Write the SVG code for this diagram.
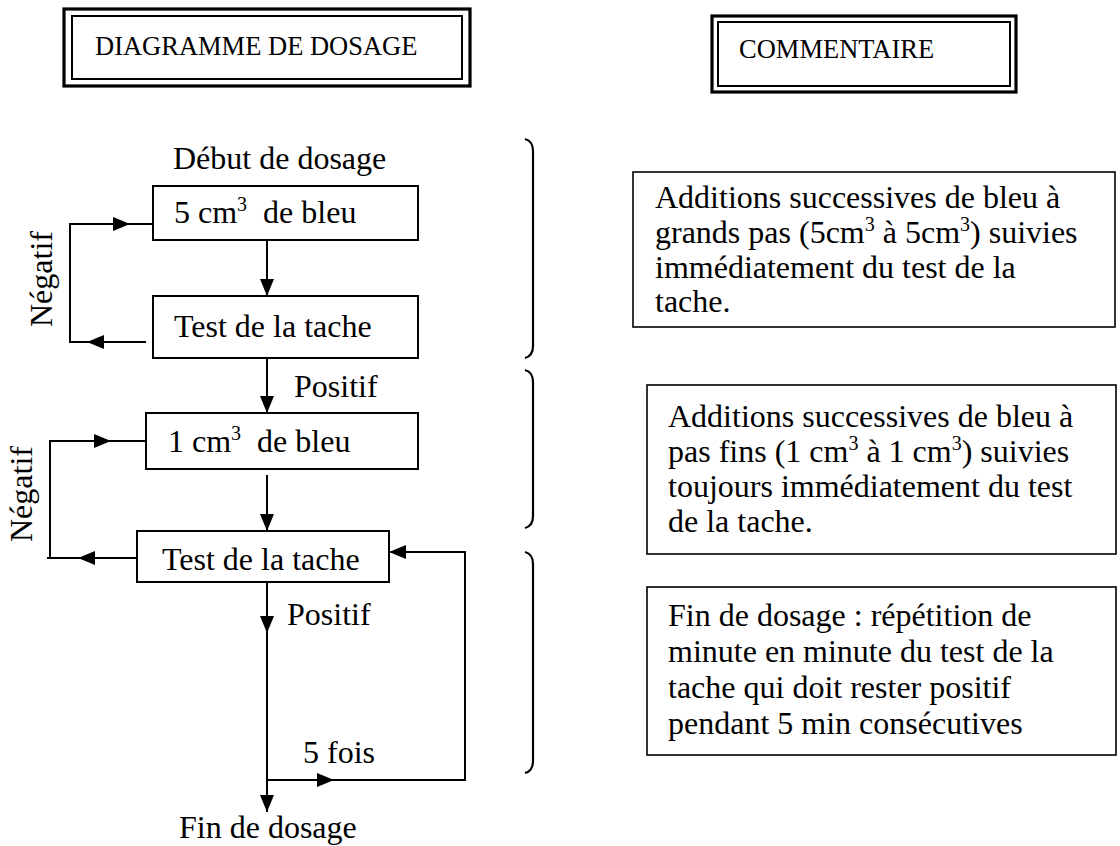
<svg xmlns="http://www.w3.org/2000/svg" width="1120" height="846" viewBox="0 0 1120 846">
  <style>
    text { font-family: "Liberation Serif", "Times New Roman", serif; fill: #000; }
    .t { font-size: 32px; }
    .h { font-size: 26.5px; }
    .sup { font-size: 20px; }
    .box { fill: #fff; stroke: #000; stroke-width: 2; }
    .cbox { fill: #fff; stroke: #000; stroke-width: 1.6; }
    .frame-out { fill: none; stroke: #000; stroke-width: 3.2; }
    .frame-in { fill: none; stroke: #000; stroke-width: 2; }
    .line { fill: none; stroke: #000; stroke-width: 2; }
    .brace { fill: none; stroke: #000; stroke-width: 2.2; }
  </style>
  <defs>
    <marker id="arrow" markerUnits="userSpaceOnUse" markerWidth="17" markerHeight="14" refX="17" refY="7" orient="auto">
      <path d="M0,0 L17,7 L0,14 z" fill="#000"/>
    </marker>
  </defs>
  <rect width="1120" height="846" fill="#fff"/>

  <!-- column headings -->
  <g id="title-diagramme">
    <rect class="frame-out" x="64" y="9" width="406" height="77"/>
    <rect class="frame-in" x="72" y="16" width="390" height="63"/>
    <text class="h" x="95" y="55">DIAGRAMME DE DOSAGE</text>
  </g>
  <g id="title-commentaire">
    <rect class="frame-out" x="712" y="16" width="304" height="76"/>
    <rect class="frame-in" x="718" y="22" width="292" height="64"/>
    <text class="h" x="739" y="58">COMMENTAIRE</text>
  </g>

  <!-- flowchart -->
  <g id="start">
    <text class="t" x="173" y="169">Début de dosage</text>
  </g>
  <g id="add5">
    <rect class="box" x="153" y="186" width="265" height="54"/>
    <text class="t" x="174" y="223">5 cm<tspan class="sup" dy="-12">3</tspan><tspan dy="12" xml:space="preserve">  de bleu</tspan></text>
  </g>
  <g id="test1">
    <rect class="box" x="153" y="296" width="265" height="62"/>
    <text class="t" x="174" y="337">Test de la tache</text>
  </g>
  <g id="add1">
    <rect class="box" x="146" y="413" width="272" height="56"/>
    <text class="t" x="168" y="452">1 cm<tspan class="sup" dy="-12">3</tspan><tspan dy="12" xml:space="preserve">  de bleu</tspan></text>
  </g>
  <g id="test2">
    <rect class="box" x="137" y="531" width="252" height="51"/>
    <text class="t" x="162" y="570">Test de la tache</text>
  </g>
  <g id="end">
    <text class="t" x="179" y="838">Fin de dosage</text>
  </g>

  <g id="connectors">
    <!-- coarse stage -->
    <path class="line" d="M267,240 L267,296" marker-end="url(#arrow)"/>
    <path class="line" d="M146,342 L87,342" marker-end="url(#arrow)"/>
    <path class="line" d="M87,342 L70,342 L70,224 L130,224" marker-end="url(#arrow)"/>
    <path class="line" d="M130,224 L153,224"/>
    <!-- fine stage -->
    <path class="line" d="M267,358 L267,413" marker-end="url(#arrow)"/>
    <path class="line" d="M267,475 L267,531" marker-end="url(#arrow)"/>
    <path class="line" d="M137,558 L78,558" marker-end="url(#arrow)"/>
    <path class="line" d="M78,558 L47,558 M50,558 L50,441 L111,441" marker-end="url(#arrow)"/>
    <path class="line" d="M111,441 L146,441"/>
    <!-- final check loop -->
    <path class="line" d="M267,582 L267,633" marker-end="url(#arrow)"/>
    <path class="line" d="M267,633 L267,812" marker-end="url(#arrow)"/>
    <path class="line" d="M267,780 L334,780" marker-end="url(#arrow)"/>
    <path class="line" d="M334,780 L465,780 L465,552 L389,552" marker-end="url(#arrow)"/>
  </g>

  <g id="labels">
    <text class="t" transform="translate(52,327) rotate(-90)">Négatif</text>
    <text class="t" x="294" y="397">Positif</text>
    <text class="t" transform="translate(32,542) rotate(-90)">Négatif</text>
    <text class="t" x="287" y="625">Positif</text>
    <text class="t" x="303" y="763">5 fois</text>
  </g>

  <!-- stage braces -->
  <g id="braces">
    <path class="brace" d="M525,139 Q533,141 533,151 L533,346 Q533,356 525,358"/>
    <path class="brace" d="M525,370 Q533,372 533,382 L533,516 Q533,526 525,528"/>
    <path class="brace" d="M525,552 Q533,554 533,564 L533,761 Q533,771 525,773"/>
  </g>

  <!-- comments -->
  <g id="comment-coarse">
    <rect class="cbox" x="633" y="172" width="482" height="155"/>
    <text class="t" x="655" y="208">Additions successives de bleu à</text>
    <text class="t" x="655" y="243">grands pas (5cm<tspan class="sup" dy="-12">3</tspan><tspan dy="12"> à 5cm</tspan><tspan class="sup" dy="-12">3</tspan><tspan dy="12">) suivies</tspan></text>
    <text class="t" x="655" y="278">immédiatement du test de la</text>
    <text class="t" x="655" y="312">tache.</text>
  </g>
  <g id="comment-fine">
    <rect class="cbox" x="647" y="385" width="469" height="169"/>
    <text class="t" x="668" y="427">Additions successives de bleu à</text>
    <text class="t" x="668" y="462">pas fins (1 cm<tspan class="sup" dy="-12">3</tspan><tspan dy="12"> à 1 cm</tspan><tspan class="sup" dy="-12">3</tspan><tspan dy="12">) suivies</tspan></text>
    <text class="t" x="668" y="497">toujours immédiatement du test</text>
    <text class="t" x="668" y="532">de la tache.</text>
  </g>
  <g id="comment-end">
    <rect class="cbox" x="647" y="587" width="469" height="168"/>
    <text class="t" x="668" y="626">Fin de dosage : répétition de</text>
    <text class="t" x="668" y="662">minute en minute du test de la</text>
    <text class="t" x="668" y="698">tache qui doit rester positif</text>
    <text class="t" x="668" y="734">pendant 5 min consécutives</text>
  </g>
</svg>
